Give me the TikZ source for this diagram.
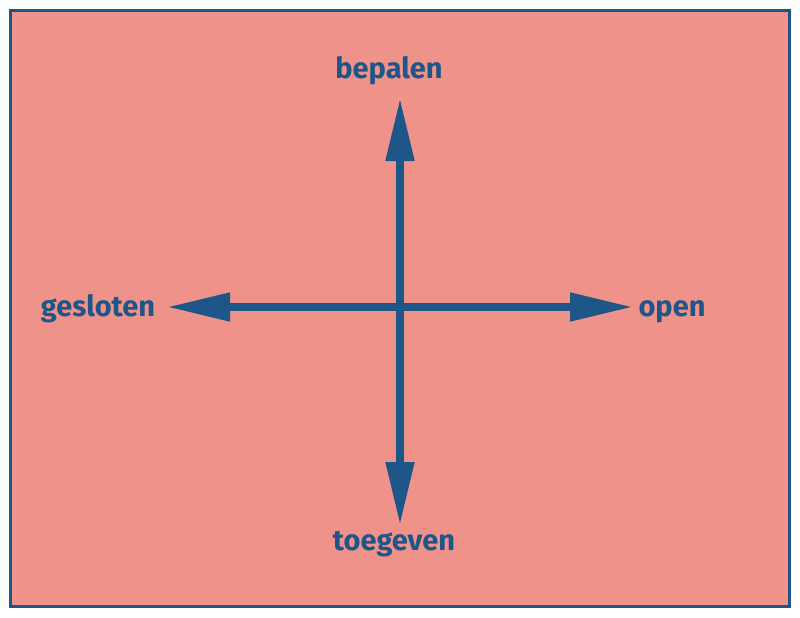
\documentclass[tikz,border=0pt]{standalone}
\usepackage{fontspec}
\setmainfont{Fira Sans}
\usetikzlibrary{arrows.meta}
\definecolor{salmon}{HTML}{EE928A}
\definecolor{navy}{HTML}{1E5689}
\tikzset{
  axisarrow/.style={draw=navy, line width=8pt, {Triangle[length=63pt,width=27pt]}-{Triangle[length=63pt,width=27pt]}},
  lbl/.style={text=navy, font=\fontsize{29}{34}\selectfont\bfseries, inner sep=0pt, anchor=base},
  frame/.style={draw=navy, line width=3pt, fill=salmon}
}
\begin{document}
\begin{tikzpicture}[x=1pt,y=-1pt]
\useasboundingbox (0,0) rectangle (800,618);
\draw[frame] (10.5,10.5) rectangle (789,606);
\coordinate (top) at (400,98);
\coordinate (bottom) at (400,525);
\coordinate (left) at (167,307);
\coordinate (right) at (633,307);
\draw[axisarrow] (left) -- (right);
\draw[axisarrow] (top) -- (bottom);
\node[lbl] (bepalen) at (389,78) {bepalen};
\node[lbl] (toegeven) at (394,550) {toegeven};
\node[lbl] (gesloten) at (98,316) {gesloten};
\node[lbl] (open) at (672,316) {open};
\end{tikzpicture}
\end{document}
